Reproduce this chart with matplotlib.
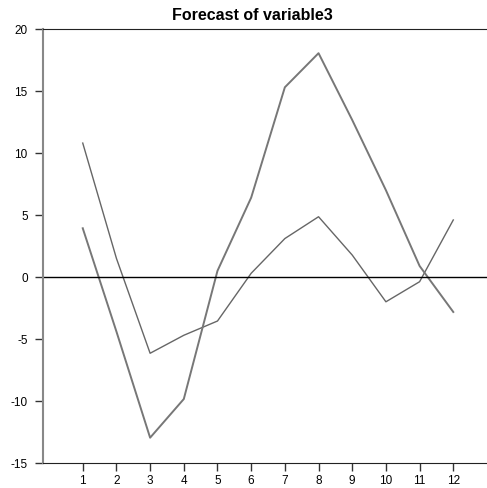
import matplotlib
matplotlib.use("Agg")
import matplotlib.pyplot as plt

periods = list(range(1, 13))
series_a = [10.8, 1.5, -6.15, -4.7, -3.55, 0.3, 3.1, 4.86, 1.77, -2.0, -0.38, 4.6]
series_b = [3.93, -4.4, -12.96, -9.84, 0.5, 6.4, 15.3, 18.05, 12.66, 7.0, 0.89, -2.82]
yticks = [-15, -10, -5, 0, 5, 10, 15, 20]
title = "Forecast of variable3"

plt.rcParams['font.family'] = ['Liberation Sans', 'DejaVu Sans']
fig = plt.figure(figsize=(4.87, 4.88), dpi=100)
ax = fig.add_axes([43/487, 25/488, 1 - 43/487 + 0.002, (463-29)/488])

ax.plot(periods, series_a, color='#666666', lw=1.0)
ax.plot(periods, series_b, color='#777777', lw=1.4)
ax.axhline(0, color='black', lw=1.0)

ax.set_xlim(-0.18, 13.03)
ax.set_ylim(-15, 20)
ax.set_xticks(periods)
ax.set_xticklabels([str(p) for p in periods])
ax.set_yticks(yticks)
ax.set_yticklabels([str(v) for v in yticks])
ax.tick_params(axis='both', direction='out', length=6, width=1, labelsize=8.5,
               colors='#333333', labelcolor='black')
ax.tick_params(axis='y', pad=5)
ax.tick_params(axis='x', pad=3)
ax.spines['left'].set_color('#888888')
ax.spines['left'].set_linewidth(1.5)
ax.spines['right'].set_visible(False)
ax.spines['top'].set_color('#222222')
ax.spines['bottom'].set_color('#222222')

fig.text(252/487, 1 - 16/488, title, ha='center', va='center', fontsize=11.5, fontweight='bold')

fig.savefig("out.png", dpi=100)
